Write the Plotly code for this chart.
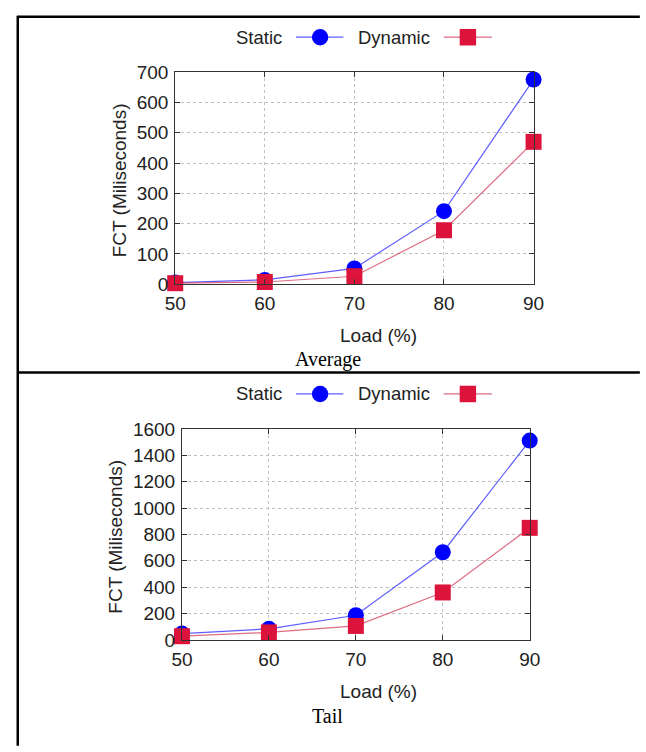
import plotly.graph_objects as go

# ---------------- data ----------------
loads = [50, 60, 70, 80, 90]
avg_static = [5, 14, 52, 241, 676]
avg_dynamic = [3, 7, 26, 178, 470]
tail_static = [48, 84, 187, 665, 1512]
tail_dynamic = [28, 57, 106, 360, 850]
x_ticks = [50, 60, 70, 80, 90]
avg_yticks = [0, 100, 200, 300, 400, 500, 600, 700]
tail_yticks = [0, 200, 400, 600, 800, 1000, 1200, 1400, 1600]
series_names = ["Static", "Dynamic"]
captions = ["Average", "Tail"]

W, H = 646, 752
BLUE = "#0000ff"
RED = "#dc143c"
BLUE_LINE = "rgba(40,40,255,0.75)"
RED_LINE = "rgba(210,60,90,0.75)"
SANS = "Liberation Sans, Arial, Helvetica, sans-serif"
SERIF = "Liberation Serif, Times New Roman, serif"
FS = 19


def px(x):
    return x / W


def py(y):
    return 1 - y / H


fig = go.Figure()

panels = [
    dict(xa="x", ya="y", s=avg_static, d=avg_dynamic),
    dict(xa="x2", ya="y2", s=tail_static, d=tail_dynamic),
]
for p in panels:
    fig.add_trace(go.Scatter(
        x=loads, y=p["s"], xaxis=p["xa"], yaxis=p["ya"], mode="lines+markers",
        name=series_names[0], line=dict(color=BLUE_LINE, width=1.2),
        marker=dict(symbol="circle", size=16, color=BLUE), cliponaxis=False,
        showlegend=False))
    fig.add_trace(go.Scatter(
        x=loads, y=p["d"], xaxis=p["xa"], yaxis=p["ya"], mode="lines+markers",
        name=series_names[1], line=dict(color=RED_LINE, width=1.2),
        marker=dict(symbol="square", size=16, color=RED), cliponaxis=False,
        showlegend=False))

axis_common = dict(
    showline=True, linecolor="#333", linewidth=1, mirror="allticks",
    ticks="inside", ticklen=5, tickcolor="#333", tickwidth=1,
    showgrid=True, gridcolor="#c0c0c0", griddash="dot", gridwidth=1,
    zeroline=False, tickfont=dict(family=SANS, size=FS, color="#222"),
    fixedrange=True,
)

# panel geometry (pixels)
top = dict(x0=170, x1=541, y0=64, y1=282, ytx=112)
bot = dict(x0=177, x1=537, y0=431, y1=648, ytx=108)

fig.update_layout(
    width=W, height=H, margin=dict(l=0, r=0, t=0, b=0),
    paper_bgcolor="white", plot_bgcolor="white", showlegend=False,
    xaxis=dict(domain=[px(top["x0"]), px(top["x1"])], anchor="y", range=[50, 90],
               tickvals=x_ticks, ticklabelstandoff=2, **axis_common),
    yaxis=dict(domain=[py(top["y1"]), py(top["y0"])], anchor="x", range=[0, 700],
               tickvals=avg_yticks, ticklabelstandoff=2, **axis_common),
    xaxis2=dict(domain=[px(bot["x0"]), px(bot["x1"])], anchor="y2", range=[50, 90],
                tickvals=x_ticks, ticklabelstandoff=2, **axis_common),
    yaxis2=dict(domain=[py(bot["y1"]), py(bot["y0"])], anchor="x2", range=[0, 1600],
                tickvals=tail_yticks, ticklabelstandoff=2, **axis_common),
)

shapes = []
annotations = []

# table borders
shapes.append(dict(type="line", xref="paper", yref="paper", x0=px(7), x1=px(W + 5),
                   y0=py(7), y1=py(7), line=dict(color="black", width=2.5)))
shapes.append(dict(type="line", xref="paper", yref="paper", x0=px(7), x1=px(W + 5),
                   y0=py(373), y1=py(373), line=dict(color="black", width=2.5)))
shapes.append(dict(type="line", xref="paper", yref="paper", x0=px(7), x1=px(7),
                   y0=py(6), y1=py(H + 5), line=dict(color="black", width=2.5)))

for off, geo, cap in [(0, top, captions[0]), (367, bot, captions[1])]:
    ly = 28 + off
    # legend: Static
    annotations.append(dict(xref="paper", yref="paper", x=px(283), y=py(ly), text=series_names[0],
                            showarrow=False, xanchor="right", yanchor="middle",
                            font=dict(family=SANS, size=18.5, color="#222")))
    shapes.append(dict(type="line", xref="paper", yref="paper", x0=px(295), x1=px(344),
                       y0=py(ly), y1=py(ly), line=dict(color=BLUE_LINE, width=1.2)))
    shapes.append(dict(type="circle", xref="paper", yref="paper", x0=px(320 - 8.5), x1=px(320 + 8.5),
                       y0=py(ly + 8.5), y1=py(ly - 8.5), fillcolor=BLUE, line=dict(width=0)))
    # legend: Dynamic
    annotations.append(dict(xref="paper", yref="paper", x=px(436), y=py(ly), text=series_names[1],
                            showarrow=False, xanchor="right", yanchor="middle",
                            font=dict(family=SANS, size=18.5, color="#222")))
    shapes.append(dict(type="line", xref="paper", yref="paper", x0=px(448), x1=px(498),
                       y0=py(ly), y1=py(ly), line=dict(color=RED_LINE, width=1.2)))
    shapes.append(dict(type="rect", xref="paper", yref="paper", x0=px(473 - 8.5), x1=px(473 + 8.5),
                       y0=py(ly + 8.5), y1=py(ly - 8.5), fillcolor=RED, line=dict(width=0)))
    # axis titles
    annotations.append(dict(xref="paper", yref="paper", x=px(380), y=py(geo["y1"] + 53),
                            text="Load (%)", showarrow=False, xanchor="center", yanchor="middle",
                            font=dict(family=SANS, size=FS, color="#222")))
    annotations.append(dict(xref="paper", yref="paper", x=px(geo["ytx"]), y=py((geo["y0"] + geo["y1"]) / 2 + 2),
                            text="FCT (Miliseconds)", showarrow=False, textangle=-90,
                            xanchor="center", yanchor="middle",
                            font=dict(family=SANS, size=FS, color="#222")))
    # caption
    annotations.append(dict(xref="paper", yref="paper", x=px(328), y=py(geo["y1"] + 78),
                            text=cap, showarrow=False, xanchor="center", yanchor="middle",
                            font=dict(family=SERIF, size=20, color="black")))

fig.update_layout(shapes=shapes, annotations=annotations)

fig.write_html("out.html")
